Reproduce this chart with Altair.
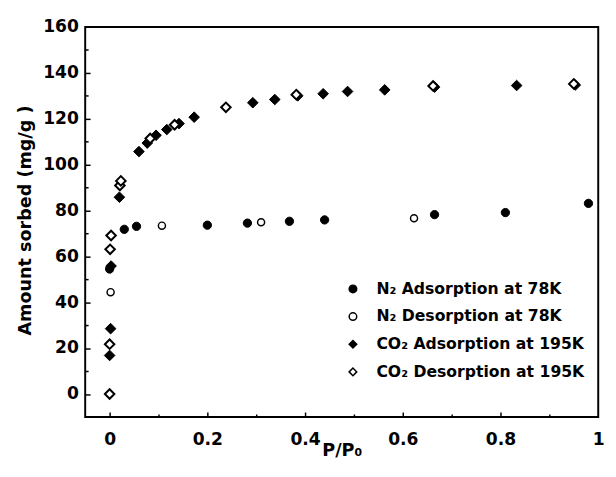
import altair as alt
import pandas as pd

series_names = [
    "N\u2082 Adsorption at 78K",
    "N\u2082 Desorption at 78K",
    "CO\u2082 Adsorption at 195K",
    "CO\u2082 Desorption at 195K",
]
series_shapes = ["circle", "circle", "diamond", "diamond"]
series_fills = ["black", "white", "black", "white"]
series_strokes = ["black", "black", "black", "black"]

n2_ads_x = [0.0, 0.03, 0.055, 0.2, 0.282, 0.368, 0.44, 0.665, 0.81, 0.98]
n2_ads_y = [54.5, 71.8, 73.1, 73.6, 74.5, 75.3, 75.9, 78.2, 79.1, 83.1]

n2_des_x = [0.002, 0.107, 0.31, 0.623]
n2_des_y = [44.4, 73.4, 74.9, 76.6]

co2_ads_x = [0.0, 0.002, 0.003, 0.02, 0.06, 0.077, 0.095, 0.117, 0.142, 0.173,
             0.293, 0.338, 0.385, 0.437, 0.487, 0.563, 0.665, 0.833, 0.953]
co2_ads_y = [16.8, 28.5, 55.8, 85.8, 105.7, 109.4, 112.8, 115.3, 117.9, 120.7,
             127.0, 128.4, 130.0, 130.9, 131.9, 132.6, 133.8, 134.5, 134.7]

co2_des_x = [0.0, 0.0, 0.001, 0.003, 0.021, 0.023, 0.083, 0.133, 0.238, 0.382, 0.662, 0.95]
co2_des_y = [0.0, 21.7, 63.1, 69.1, 90.9, 92.9, 111.4, 117.4, 125.0, 130.5, 134.3, 135.2]

x_label_values = [0, 0.2, 0.4, 0.6, 0.8, 1.0]
x_tick_values = [0, 0.1, 0.2, 0.3, 0.4, 0.5, 0.6, 0.7, 0.8, 0.9]
y_label_values = [0, 20, 40, 60, 80, 100, 120, 140, 160]
y_tick_values = [0, 10, 20, 30, 40, 50, 60, 70, 80, 90, 100, 110, 120, 130, 140, 150]

rows = []
for name, xs, ys in [
    (series_names[0], n2_ads_x, n2_ads_y),
    (series_names[1], n2_des_x, n2_des_y),
    (series_names[2], co2_ads_x, co2_ads_y),
    (series_names[3], co2_des_x, co2_des_y),
]:
    for xv, yv in zip(xs, ys):
        rows.append({"series": name, "p": xv, "amount": yv, "k": series_names.index(name)})
df = pd.DataFrame(rows)

W, H = 525, 399
FONT = "DejaVu Sans"

xscale = alt.Scale(domain=[-0.05, 1.0], nice=False, zero=False)
yscale = alt.Scale(domain=[-10, 160], nice=False, zero=False)

leg = alt.Legend(
    title=None, orient="none", legendX=266, legendY=260,
    labelFont=FONT, labelFontWeight="bold", labelFontSize=16, labelColor="black",
    labelOffset=16, rowPadding=12.3, padding=0, labelLimit=400,
    symbolStrokeColor="black", symbolStrokeWidth=1.5, symbolSize=60,
)

base = alt.Chart(df)

points = base.mark_point(filled=True, opacity=1).encode(
    x=alt.X("p:Q", scale=xscale, axis=alt.Axis(
        values=x_label_values, format="~g", ticks=False, domain=False, grid=False,
        labelFont=FONT, labelFontWeight="bold", labelFontSize=17.5, labelColor="black",
        labelPadding=14, labelFlush=False, labelOverlap=False,
        title="P/P\u2080", titleFont=FONT, titleFontWeight="bold", titleFontSize=18,
        titleColor="black", titleX=262.5, titleY=25, titleBaseline="top",
    )),
    y=alt.Y("amount:Q", scale=yscale, axis=alt.Axis(
        values=y_label_values, format="d", ticks=False, domain=False, grid=False,
        labelFont=FONT, labelFontWeight="bold", labelFontSize=17.5, labelColor="black",
        labelPadding=7, labelFlush=False, labelOverlap=False,
        title="Amount sorbed (mg/g )", titleFont=FONT, titleFontWeight="bold",
        titleFontSize=18, titleColor="black", titleX=-52, titleY=197.5,
    )),
    shape=alt.Shape("series:N", scale=alt.Scale(domain=series_names, range=series_shapes), legend=leg),
    fill=alt.Fill("series:N", scale=alt.Scale(domain=series_names, range=series_fills), legend=leg),
    stroke=alt.Stroke("series:N", scale=alt.Scale(domain=series_names, range=series_strokes), legend=leg),
    size={"condition": [
        {"test": "datum.k === 0", "value": 72},
        {"test": "datum.k === 1", "value": 52},
        {"test": "datum.k === 2", "value": 118},
    ], "value": 95},
    strokeWidth={"condition": [
        {"test": "datum.k === 1", "value": 1.5},
        {"test": "datum.k === 3", "value": 2},
    ], "value": 1},
    order=alt.Order("k:Q"),
)

ticks = base.mark_point(opacity=0).encode(
    x=alt.X("p:Q", scale=xscale, axis=alt.Axis(
        orient="top", offset=-H, values=x_tick_values, labels=False, domain=False,
        grid=False, title=None, tickColor="black", tickWidth=1.5,
        tickSize={"condition": {"test": "round(datum.value * 10) % 2 === 0", "value": 5}, "value": 3},
    )),
    y=alt.Y("amount:Q", scale=yscale, axis=alt.Axis(
        orient="right", offset=-W, values=y_tick_values, labels=False, domain=False,
        grid=False, title=None, tickColor="black", tickWidth=1.5,
        tickSize={"condition": {"test": "datum.value % 20 === 0", "value": 5}, "value": 3},
    )),
)

chart = alt.layer(points, ticks).resolve_axis(x="independent", y="independent").properties(
    width=W, height=H,
    autosize=alt.AutoSizeParams(type="none"),
    padding={"left": 79, "top": 14, "right": 10, "bottom": 56},
    background="white",
).configure_view(stroke="black", strokeWidth=2)

chart.save("out.html", embed_options={"renderer": "svg", "actions": False})
